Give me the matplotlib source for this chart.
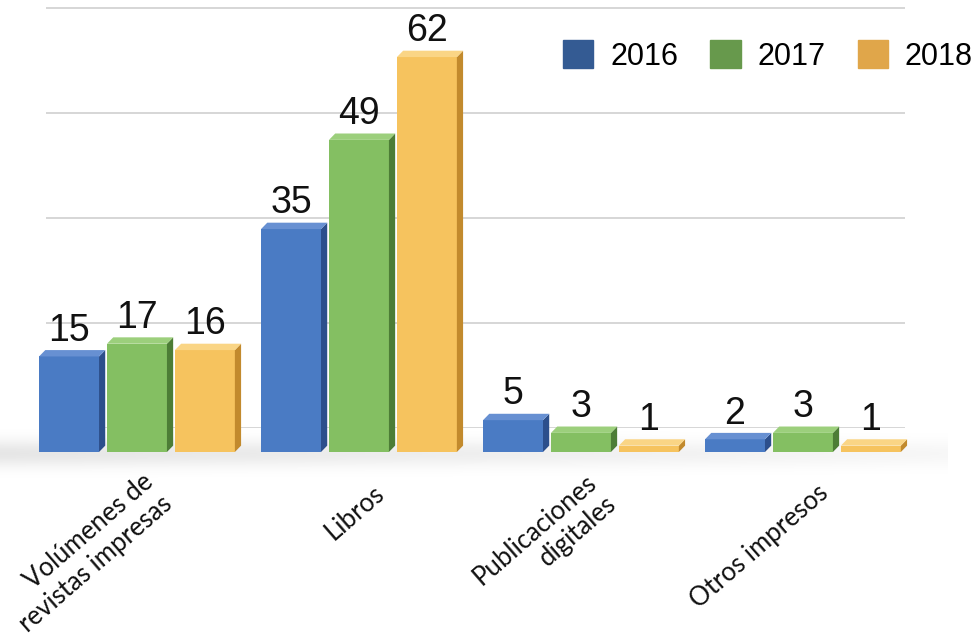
import numpy as np
import matplotlib
matplotlib.use("Agg")
import matplotlib.pyplot as plt
from matplotlib.patches import Polygon, Patch

# Data
categories = ["Volúmenes de\nrevistas impresas", "Libros", "Publicaciones\ndigitales", "Otros impresos"]
years = ["2016", "2017", "2018"]
v2016 = [15, 35, 5, 2]
v2017 = [17, 49, 3, 3]
v2018 = [16, 62, 1, 1]

# colours: front face, side face, top face, legend swatch
front = ["#4a7bc4", "#84bf62", "#f6c35e"]
side = ["#2c4f8c", "#4d7d36", "#c28a2d"]
top = ["#6790d2", "#9ccf7c", "#fad585"]
swatch = ["#345b93", "#67994c", "#e0a64a"]

W, H = 977, 644
fig = plt.figure(figsize=(W / 100, H / 100), dpi=100)

# back wall with gridlines (smaller scale because it sits further away)
back = fig.add_axes([0, (H - 428) / H, 1, 428 / H])
back.set_xlim(-0.617, 3.784)
back.set_ylim(0, 428 / 5.25)
back.hlines(np.arange(0, 81, 20), -0.41, 3.46, color="#cfcfcf", lw=1.2)
back.axis("off")

# front plane with the bars
ax = fig.add_axes([0, (H - 452) / H, 1, 452 / H])
ax.set_xlim(-0.617, 3.784)
ax.set_ylim(0, 452 / 6.37)
ax.axis("off")

# soft floor shadow, darker on the left
prof = np.exp(-((np.linspace(-1, 1, 80)) ** 2) / 0.25)[:, None]
horiz = np.linspace(1.0, 0.35, 300)[None, :]
shade = np.zeros((80, 300, 4))
shade[..., 3] = 0.10 * prof * horiz
ax.imshow(shade, extent=(-0.62, 3.65, -4.5, 4.0), aspect="auto", zorder=0,
          clip_on=False, interpolation="bilinear")

series = [v2016, v2017, v2018]
x = np.arange(len(categories))
pitch = 0.306
width = 0.27
dx, dy = 0.028, 1.0

for i, vals in enumerate(series):
    xs = x + (i - 1) * pitch
    ax.bar(xs, vals, width=width, color=front[i], zorder=3 + i, edgecolor="none")
    for xc, v in zip(xs, vals):
        x0, x1 = xc - width / 2, xc + width / 2
        ax.add_patch(Polygon([(x1, 0), (x1 + dx, dy), (x1 + dx, v + dy), (x1, v)],
                             closed=True, color=side[i], zorder=3 + i, lw=0))
        ax.add_patch(Polygon([(x0, v), (x1, v), (x1 + dx, v + dy), (x0 + dx, v + dy)],
                             closed=True, color=top[i], zorder=3 + i, lw=0))
        ax.annotate(str(v), (xc, v + dy), xytext=(0, 1), textcoords="offset points",
                    ha="center", va="bottom", fontsize=27, family="Liberation Sans",
                    color="#111111", zorder=10)

for xc, name in zip(x, categories):
    ax.text(xc + 0.1, -5.9, name, rotation=41, rotation_mode="anchor",
            ha="right", va="center", multialignment="right",
            fontsize=18.5, family="Lato", color="#111111", clip_on=False,
            linespacing=1.2)

handles = [Patch(color=c) for c in swatch]
fig.legend(handles, years, loc="upper right", bbox_to_anchor=(1.024, 0.98), ncol=3,
           frameon=False, prop={"family": "Liberation Sans", "size": 22},
           handlelength=1.0, handleheight=1.0, columnspacing=1.05, handletextpad=0.55)

fig.savefig("out.png", dpi=100)
